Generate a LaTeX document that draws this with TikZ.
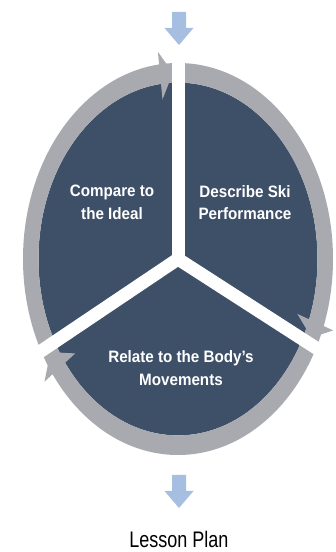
\documentclass[tikz,border=0pt]{standalone}
\usepackage{fontspec}
\usepackage{graphicx}
\setmainfont{Liberation Sans}
\definecolor{slateblue}{HTML}{3E5068}
\definecolor{ringgray}{HTML}{A8AAAF}
\definecolor{flowblue}{HTML}{A6BEE0}
\tikzset{
    sectorlabel/.style={text=white, font=\bfseries\fontsize{16.5}{22.5}\selectfont, align=center,
        xscale=0.92, transform shape},
    gapline/.style={white, line width=13pt},
}
\begin{document}
\begin{tikzpicture}[x=1pt,y=1pt]
    \useasboundingbox (0,0) rectangle (336,552);
    \coordinate (c) at (178,293);
    \begin{scope}[shift={(c)}, xscale=155, yscale=196]
        % pie and ring
        \fill[slateblue] (0,0) circle (0.9);
        \fill[ringgray, even odd rule] (0,0) circle (1) (0,0) circle (0.9);
        % heads at the end of each arc
        \foreach \tip/\back in {92/97, -25/-20, 210/216}
            \fill[ringgray] (\tip:0.95) -- (\back:1.065) -- (\back:0.82) -- cycle;
        % gaps between the sectors
        \foreach \a in {90, -27, 208}
            \draw[gapline] (0,0) -- (\a:1.15);
    \end{scope}
    \fill[white] (c) circle (6.5);
    % in and out arrows
    \foreach \ya in {540, 77}
        \fill[flowblue] (172,\ya) -- (186,\ya) -- (186,\ya-16) -- (193.5,\ya-16)
            -- (179,\ya-33) -- (164.5,\ya-16) -- (172,\ya-16) -- cycle;
    \node[sectorlabel] (compare) at (112,349.5) {Compare to\\the Ideal};
    \node[sectorlabel] (describe) at (245,349.5) {Describe Ski\\Performance};
    \node[sectorlabel] (relate) at (181,184) {Relate to the Body's\\Movements};
    \node[anchor=base, inner sep=0pt] (lessonplan) at (179,5)
        {\fontsize{22.5}{25}\selectfont\scalebox{0.8}[1]{Lesson Plan}};
\end{tikzpicture}
\end{document}
